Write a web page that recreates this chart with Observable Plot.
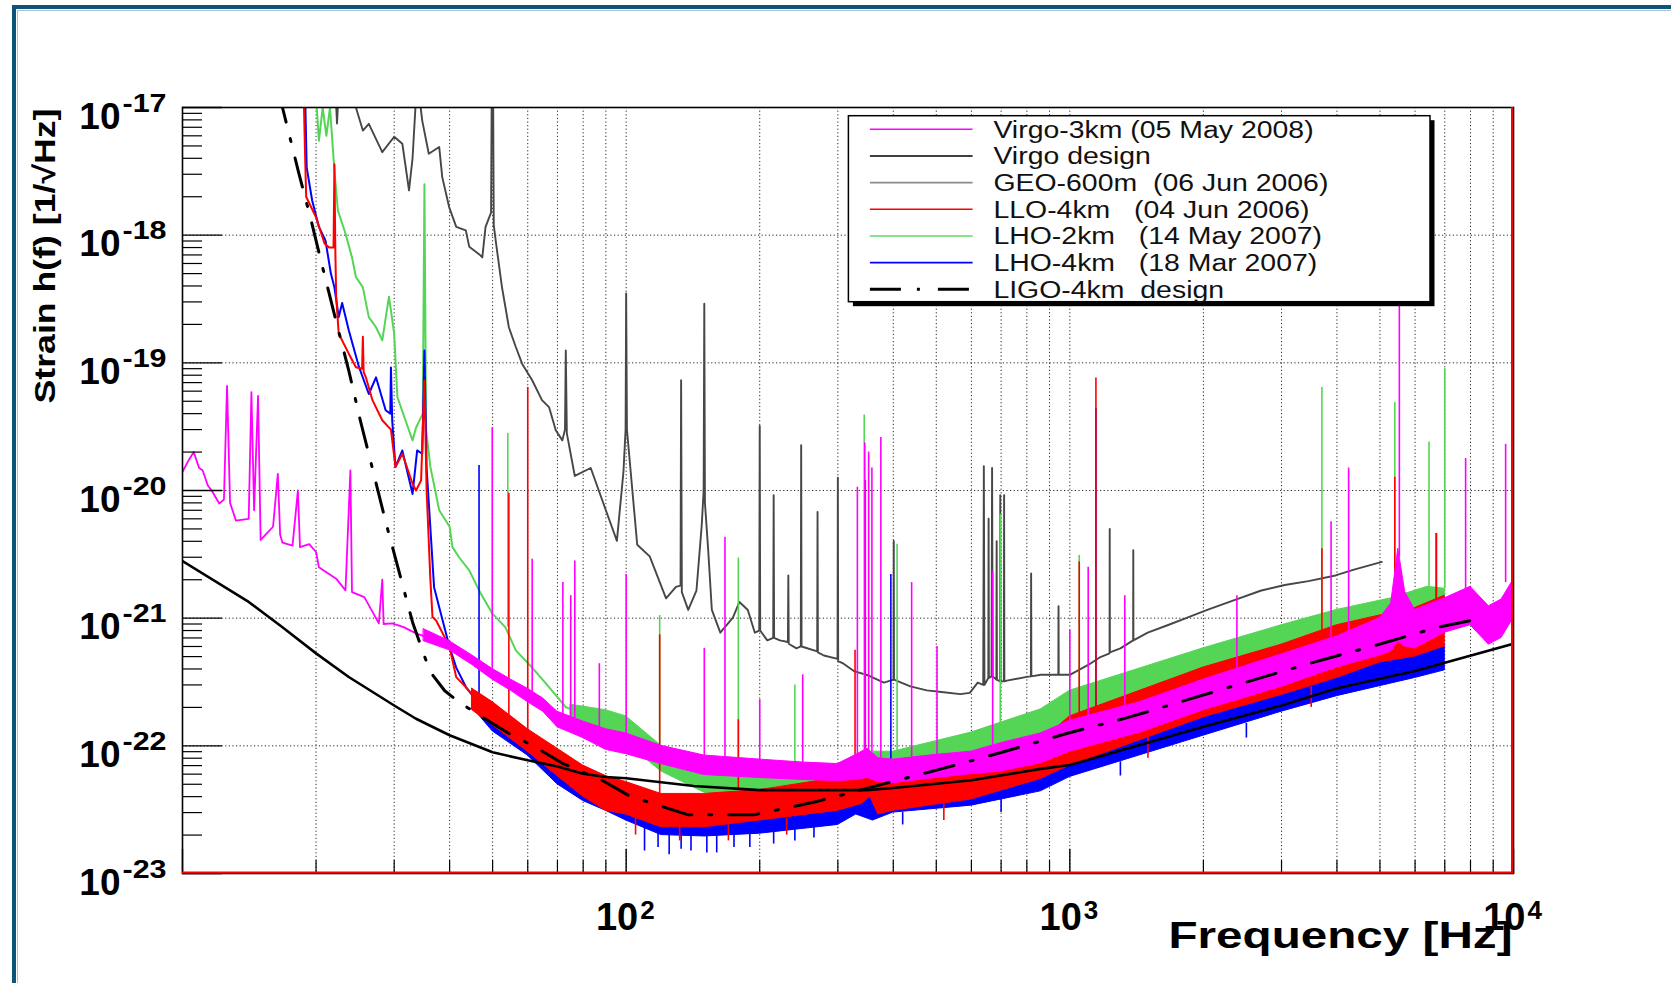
<!DOCTYPE html>
<html>
<head>
<meta charset="utf-8">
<script src="https://cdn.jsdelivr.net/npm/d3@7"></script>
<script src="https://cdn.jsdelivr.net/npm/@observablehq/plot@0.6"></script>
<style>
  html, body { margin: 0; padding: 0; background: #fff; }
  #wrap { position: relative; width: 1671px; height: 983px; overflow: hidden; background: #fff; }
  #border { position: absolute; left: 12px; top: 5px; width: 1700px; height: 1000px;
            border-top: 4.5px solid #0c5479; border-left: 4.5px solid #0c5479; }
  #border2 { position: absolute; left: 16.5px; top: 9.5px; width: 1700px; height: 1000px;
             border-top: 1px solid #a9c2d2; border-left: 1px solid #a9c2d2; }
  #chart { position: absolute; left: 0; top: 0; }
  #legend { position: absolute; left: 0; top: 0; pointer-events: none; }
</style>
</head>
<body>
<div id="wrap">
  <div id="border"></div><div id="border2"></div>
  <div id="chart"></div>
  <svg id="legend" width="1671" height="983"></svg>
</div>
<script>
// ---------------- series names / colours ----------------
const seriesNames = [
  "Virgo-3km (05 May 2008)",
  "Virgo design",
  "GEO-600m  (06 Jun 2006)",
  "LLO-4km   (04 Jun 2006)",
  "LHO-2km   (14 May 2007)",
  "LHO-4km   (18 Mar 2007)",
  "LIGO-4km  design"
];
const seriesColors = ["#ff00ff", "#000000", "#474747", "#ff0000", "#55d555", "#0000ff", "#000000"];
const legendColors = ["#ff00ff", "#000000", "#8c8c8c", "#ff0000", "#66d966", "#0000ff", "#000000"];

// ---------------- axis ticks / labels ----------------
const xMajorTicks = [10, 100, 1000, 10000];
const xMinorTicks = [20, 30, 40, 50, 60, 70, 80, 90, 200, 300, 400, 500, 600, 700, 800, 900,
                     2000, 3000, 4000, 5000, 6000, 7000, 8000, 9000];
const yMajorTicks = [1e-23, 1e-22, 1e-21, 1e-20, 1e-19, 1e-18, 1e-17];
const yMinorTicks = [
  2e-23, 3e-23, 4e-23, 5e-23, 6e-23, 7e-23, 8e-23, 9e-23,
  2e-22, 3e-22, 4e-22, 5e-22, 6e-22, 7e-22, 8e-22, 9e-22,
  2e-21, 3e-21, 4e-21, 5e-21, 6e-21, 7e-21, 8e-21, 9e-21,
  2e-20, 3e-20, 4e-20, 5e-20, 6e-20, 7e-20, 8e-20, 9e-20,
  2e-19, 3e-19, 4e-19, 5e-19, 6e-19, 7e-19, 8e-19, 9e-19,
  2e-18, 3e-18, 4e-18, 5e-18, 6e-18, 7e-18, 8e-18, 9e-18
];
const xLabelValues = [100, 1000, 10000];
const xLabelExponents = ["2", "3", "4"];
const yLabelValues = [1e-17, 1e-18, 1e-19, 1e-20, 1e-21, 1e-22, 1e-23];
const yLabelExponents = ["-17", "-18", "-19", "-20", "-21", "-22", "-23"];
const xTitle = "Frequency [Hz]";
const yTitle = "Strain h(f) [1/\u221AHz]";

// ---------------- data: [frequency Hz, strain] ----------------
// Virgo-3km (05 May 2008)
const virgo3kmLow = [
  [10, 1.4e-20], [10.3, 1.7e-20], [10.6, 2.0e-20], [10.9, 1.5e-20], [11.1, 1.44e-20], [11.4, 1.1e-20],
  [11.7, 9.7e-21], [12.1, 7.9e-21], [12.4, 8.5e-21], [12.6, 6.6e-20], [12.8, 8e-21], [13.2, 5.8e-21],
  [14.1, 6.0e-21], [14.3, 5.9e-20], [14.5, 7e-21], [14.8, 5.5e-20], [15.0, 4.1e-21], [16.0, 5.2e-21],
  [16.4, 1.35e-20], [16.6, 4.5e-21], [16.8, 3.9e-21], [17.7, 3.7e-21], [18.2, 1.0e-20], [18.4, 3.6e-21],
  [19.3, 3.8e-21], [20.0, 3.3e-21], [20.3, 2.5e-21], [22.2, 2.04e-21], [23.3, 1.65e-21], [23.9, 1.44e-20],
  [24.1, 1.6e-21], [25.7, 1.46e-21], [27.7, 9.1e-22], [28.2, 2.0e-21], [28.4, 9e-22], [29.7, 9.1e-22],
  [31.5, 8.5e-22], [33.6, 7.6e-22], [37.3, 6.7e-22], [40, 6e-22]
];
const virgo3kmBand = [
  [35, 6.6e-22, 8.2e-22], [40, 5.6e-22, 6.6e-22], [45, 4.3e-22, 5.1e-22], [50, 3.3e-22, 4.0e-22],
  [55, 2.7e-22, 3.3e-22], [60, 2.2e-22, 2.8e-22], [65, 1.85e-22, 2.35e-22], [70, 1.4e-22, 1.85e-22],
  [80, 1.15e-22, 1.55e-22], [90, 9.3e-23, 1.35e-22], [100, 8.6e-23, 1.25e-22], [120, 7.2e-23, 1.0e-22],
  [150, 5.9e-23, 8.4e-23], [200, 5.6e-23, 7.8e-23], [250, 5.4e-23, 7.4e-23], [300, 5.3e-23, 7.2e-23],
  [330, 5.4e-23, 8.5e-23], [350, 5.6e-23, 9.5e-23], [370, 5.2e-23, 8e-23], [400, 5.1e-23, 7.8e-23],
  [500, 5.6e-23, 8.5e-23], [600, 6.0e-23, 9.0e-23], [700, 6.3e-23, 1.05e-22], [860, 7.3e-23, 1.25e-22],
  [1000, 9.0e-23, 1.57e-22], [1440, 1.27e-22, 2.2e-22], [2000, 1.9e-22, 3.3e-22], [3000, 2.9e-22, 5.2e-22],
  [4000, 4.1e-22, 7.2e-22], [5000, 5.1e-22, 1.0e-21], [5300, 5.5e-22, 1.3e-21], [5500, 6.5e-22, 3.5e-21],
  [5700, 6e-22, 1.6e-21], [6000, 5.8e-22, 1.16e-21], [7000, 7.7e-22, 1.43e-21], [8000, 8.8e-22, 1.76e-21],
  [8800, 6.2e-22, 1.24e-21], [9400, 7e-22, 1.4e-21], [10000, 1.0e-21, 2.0e-21]
];
const virgo3kmSpikes = [ // [f, base, peak]
  [49.9, 4.0e-22, 3.1e-20], [61.4, 2.6e-22, 2.9e-21], [72, 1.7e-22, 1.9e-21], [75, 1.6e-22, 1.5e-21],
  [76.6, 1.6e-22, 2.8e-21], [87, 1.3e-22, 4.4e-22], [100, 1.2e-22, 2.2e-21], [150, 8e-23, 5.8e-22],
  [167, 7.8e-23, 4.3e-21], [200, 7.5e-23, 2.3e-22], [250, 7.2e-23, 3.6e-22], [332, 8e-23, 1.06e-20],
  [345, 9e-23, 2.36e-20], [352, 9e-23, 2.0e-20], [358, 9e-23, 1.5e-20], [375, 8e-23, 2.6e-20],
  [440, 8e-23, 1.9e-21], [502, 8.5e-23, 6e-22], [670, 1e-22, 2.3e-21], [1000, 1.5e-22, 8e-22],
  [1100, 1.7e-22, 2.5e-21], [1330, 2e-22, 1.5e-21], [2380, 4e-22, 1.5e-21], [3880, 7e-22, 5.7e-21],
  [4250, 7.5e-22, 1.5e-20], [5530, 3e-21, 6.2e-19], [7800, 1.6e-21, 1.78e-20], [9600, 1.9e-21, 2.3e-20],
  [9950, 2e-21, 4.4e-20]
];

// Virgo design
const virgoDesign = [
  [10, 2.8e-21], [14.1, 1.34e-21], [16.8, 8.5e-22], [20, 5.3e-22], [23.7, 3.46e-22], [30, 2.07e-22],
  [33.6, 1.63e-22], [40, 1.21e-22], [50, 8.9e-23], [60, 7.7e-23], [70, 6.9e-23], [80, 6.05e-23],
  [90, 5.7e-23], [100, 5.57e-23], [142, 4.84e-23], [200, 4.5e-23], [300, 4.5e-23], [349, 4.5e-23],
  [400, 4.68e-23], [600, 5.37e-23], [860, 6.6e-23], [1000, 7.07e-23], [2000, 1.41e-22], [3000, 2.07e-22],
  [4000, 2.82e-22], [6000, 3.85e-22], [10000, 6.3e-22]
];

// GEO-600m (06 Jun 2006)
const geo600 = [
  [22.0, 2e-17], [22.3, 7.5e-18], [22.6, 2e-17], [24.4, 2e-17], [24.6, 1.0e-17], [25.5, 6.6e-18],
  [26.3, 7.45e-18], [28.2, 4.47e-18], [30.0, 5.9e-18], [31.3, 5.2e-18], [32.4, 2.24e-18], [33.0, 4e-18],
  [33.6, 1.2e-17], [34.2, 1.2e-17], [34.7, 7.9e-18], [35.9, 4.34e-18], [37.9, 4.9e-18], [38.5, 2.85e-18],
  [39.9, 1.66e-18], [41.4, 1.16e-18], [43.5, 1.09e-18], [44.3, 8.1e-19], [46.6, 7.1e-19], [47.4, 6.7e-19],
  [48.2, 1.16e-18], [49.6, 1.5e-18], [49.8, 2e-17], [50.1, 2e-17], [50.3, 1.2e-18], [50.8, 9.1e-19],
  [52.5, 3.9e-19], [54.4, 1.9e-19], [56.4, 1.33e-19], [58.3, 9.8e-20], [61.4, 7.3e-20], [64.6, 5.1e-20],
  [67, 4.5e-20], [69.4, 2.96e-20], [71.8, 2.47e-20], [72.8, 3e-20], [73.1, 1.25e-19], [73.5, 2.8e-20],
  [76.6, 1.3e-20], [83.2, 1.5e-20], [90, 7.0e-21], [95.3, 4.03e-21], [98.6, 1.4e-20], [99.7, 3e-20],
  [100, 3.5e-19], [100.4, 3e-20], [105.9, 3.76e-21], [113, 3.05e-21], [123, 1.43e-21], [129.5, 1.76e-21],
  [132.6, 1.8e-21], [133, 7.3e-20], [133.5, 1.6e-21], [138, 1.16e-21], [144, 1.64e-21], [148, 5.3e-21],
  [149.5, 1e-20], [150, 2.9e-19], [150.5, 8e-21], [153, 3.5e-21], [156, 1.16e-21], [163, 7.7e-22],
  [174, 1.01e-21], [180, 1.34e-21], [188, 1.16e-21], [195, 7.7e-22], [199.5, 8e-22], [200, 3.2e-20],
  [200.5, 8e-22], [208, 6.7e-22], [214.5, 7e-22], [215, 9.2e-21], [215.5, 7e-22], [222, 6.7e-22],
  [231.5, 6.5e-22], [232, 2.16e-21], [232.5, 6.3e-22], [242, 5.8e-22], [247.5, 6e-22], [248, 2.26e-20],
  [248.5, 6e-22], [269.5, 5.5e-22], [270, 6.8e-21], [270.5, 5.4e-22], [279, 5.1e-22], [299.5, 4.8e-22],
  [300, 1.26e-20], [300.5, 4.6e-22], [309, 4.4e-22], [326, 3.85e-22], [349, 3.59e-22], [381, 3.13e-22],
  [400.5, 3.3e-22], [401, 4.03e-21], [401.5, 3.3e-22], [437, 2.92e-22], [476, 2.72e-22], [520, 2.63e-22],
  [566, 2.54e-22], [595, 2.6e-22], [620, 3.13e-22], [638, 3e-22], [640, 1.55e-20], [642, 3e-22],
  [655, 3.4e-22], [656, 6e-21], [657, 3.4e-22], [666, 3.5e-22], [668, 1.5e-20], [670, 3.5e-22],
  [683, 3.3e-22], [684, 4e-21], [685, 3.3e-22], [696, 3.2e-22], [697, 9.2e-21], [698, 3.2e-22],
  [710, 3.2e-22], [711, 9.2e-21], [712, 3.2e-22], [721, 3.24e-22], [800, 3.47e-22], [817, 3.5e-22],
  [818, 2.24e-21], [819, 3.5e-22], [860, 3.6e-22], [942, 3.6e-22], [943, 1.24e-21], [944, 3.6e-22],
  [1000, 3.6e-22], [1100, 4.3e-22], [1172, 4.96e-22], [1229, 5.3e-22], [1230, 5e-21], [1231, 5.4e-22],
  [1300, 5.8e-22], [1389, 6.7e-22], [1390, 3.4e-21], [1391, 6.7e-22], [1498, 7.7e-22], [1660, 8.8e-22],
  [1840, 1.01e-21], [2040, 1.16e-21], [2340, 1.38e-21], [2690, 1.64e-21], [3050, 1.82e-21],
  [3450, 1.95e-21], [3970, 2.16e-21], [4370, 2.4e-21], [5050, 2.76e-21]
];

// LLO-4km (04 Jun 2006)
const lloLow = [
  [18.7, 2e-17], [18.9, 4e-18], [19.0, 2.0e-18], [20.0, 1.38e-18], [20.9, 8.6e-19], [21.4, 8.0e-19],
  [21.9, 8e-19], [22.0, 3.6e-18], [22.1, 8e-19], [22.2, 3.3e-19], [22.5, 1.69e-19], [23.7, 1.18e-19],
  [24.6, 9.25e-20], [25.4, 9e-20], [25.5, 1.6e-19], [25.6, 8.5e-20], [25.9, 7.7e-20], [26.8, 5.1e-20],
  [28.2, 3.55e-20], [29.5, 3e-20], [30.2, 1.53e-20], [31.3, 1.94e-20], [33.0, 1.13e-20], [33.6, 1.0e-20],
  [34.5, 1.2e-20], [35.1, 7.3e-20], [35.5, 1e-20], [36.2, 2e-21], [36.6, 1.02e-21], [37.3, 9.6e-22],
  [39.3, 6.7e-22], [40, 5.9e-22], [41.4, 3.45e-22], [43.5, 2.88e-22], [45, 2.5e-22]
];
const lloBand = [
  [45, 1.9e-22, 2.8e-22], [50, 1.45e-22, 2.2e-22], [60, 9.0e-23, 1.35e-22], [70, 5.8e-23, 9.5e-23],
  [80, 4.0e-23, 7.0e-23], [90, 3.1e-23, 5.8e-23], [100, 2.9e-23, 5.2e-23], [120, 2.3e-23, 4.2e-23],
  [150, 2.3e-23, 4.2e-23], [200, 2.6e-23, 4.5e-23], [300, 3.1e-23, 5.6e-23], [340, 3.5e-23, 6.3e-23],
  [355, 4.0e-23, 7.0e-23], [370, 2.9e-23, 5.5e-23], [400, 3.1e-23, 5.4e-23], [600, 3.8e-23, 7.0e-23],
  [860, 5.5e-23, 1.08e-22], [1000, 7.0e-23, 1.7e-22], [2000, 1.67e-22, 4.1e-22], [3000, 2.5e-22, 6.2e-22],
  [4000, 3.4e-22, 8.8e-22], [5000, 4.5e-22, 1.05e-21], [6000, 5.0e-22, 1.2e-21], [7000, 6.0e-22, 1.5e-21]
];
const lloSpikes = [
  [54.4, 1.6e-22, 9.5e-21], [60, 1.3e-22, 6.4e-20], [119, 4e-23, 7.4e-22], [179, 4.5e-23, 1.6e-22],
  [328, 6e-23, 5.6e-22], [346, 6.5e-23, 1.2e-20], [1050, 1.6e-22, 2.76e-21], [1145, 1.7e-22, 7.6e-20],
  [3700, 8e-22, 3.5e-21], [5400, 1.1e-21, 1.27e-20], [6700, 1.4e-21, 4.6e-21],
  // downward noise excursions
  [105, 2.9e-23, 2.0e-23], [132, 2.4e-23, 1.8e-23], [170, 2.4e-23, 1.8e-23], [230, 2.7e-23, 2.0e-23],
  [520, 3.6e-23, 2.6e-23], [1500, 1.2e-22, 8e-23], [3500, 2.9e-22, 2.0e-22]
];

// LHO-2km (14 May 2007)
const lho2Low = [
  [20.0, 1.2e-17], [20.3, 5.5e-18], [20.7, 1e-17], [21.1, 6e-18], [21.5, 1e-17], [22.0, 3.2e-18],
  [22.4, 1.56e-18], [23.3, 1.03e-18], [24.1, 6.7e-19], [24.6, 4.7e-19], [25.5, 3.9e-19], [26.3, 2.28e-19],
  [27.3, 1.9e-19], [28.2, 1.5e-19], [29.2, 3.3e-19], [30.0, 1.69e-19], [30.5, 5.4e-20], [31.8, 3.55e-20],
  [33.0, 2.47e-20], [33.6, 3.1e-20], [34.8, 4e-20], [35.1, 2.5e-18], [35.4, 3e-20], [36.2, 1.53e-20],
  [37.9, 7.0e-21], [40, 5.2e-21], [40.6, 3.6e-21], [42, 3.0e-21], [44.3, 2.37e-21], [46.6, 1.65e-21],
  [50, 1.08e-21], [53.4, 8.5e-22], [56.4, 5.6e-22], [61.4, 4.1e-22], [67, 2.88e-22], [73.2, 2.0e-22],
  [79.7, 1.79e-22]
];
const lho2Band = [
  [75, 1.4e-22, 2.1e-22], [90, 1.15e-22, 1.9e-22], [100, 1.05e-22, 1.7e-22], [120, 6.3e-23, 1.0e-22],
  [150, 4.3e-23, 6.8e-23], [200, 4.1e-23, 6.4e-23], [300, 4.4e-23, 6.8e-23], [350, 5.5e-23, 9e-23],
  [400, 5.8e-23, 9e-23], [600, 8.2e-23, 1.27e-22], [860, 1.15e-22, 1.93e-22], [1000, 1.45e-22, 2.7e-22],
  [2000, 3.3e-22, 5.8e-22], [3000, 5.1e-22, 8.8e-22], [4000, 6.7e-22, 1.16e-21], [5300, 8.8e-22, 1.43e-21],
  [6400, 1.16e-21, 1.76e-21], [7000, 1.1e-21, 1.7e-21]
];
const lho2Spikes = [
  [54.1, 8.5e-22, 2.8e-20], [119, 8e-23, 1.05e-21], [179, 6.5e-23, 2.96e-21], [240, 6.4e-23, 3e-22],
  [344, 8e-23, 3.9e-20], [408, 9e-23, 3.8e-21], [697, 1.5e-22, 6.5e-21], [1050, 2.7e-22, 3.1e-21],
  [3700, 9e-22, 6.4e-20], [5400, 1.4e-21, 4.9e-20], [6450, 1.7e-21, 2.4e-20], [7000, 1.7e-21, 9e-20]
];

// LHO-4km (18 Mar 2007)
const lho4Low = [
  [18.85, 2e-17], [18.95, 7.9e-18], [19.05, 3.4e-18], [19.6, 1.87e-18], [20.3, 1.16e-18], [21.0, 9.1e-19],
  [21.6, 5.0e-19], [22.0, 3.9e-19], [22.5, 2.28e-19], [22.9, 2.94e-19], [23.7, 1.8e-19], [25.0, 9.25e-20],
  [26.3, 5.7e-20], [27.3, 7.7e-20], [28.7, 4.25e-20], [29.4, 4e-20], [29.5, 9.2e-20], [29.7, 3.5e-20],
  [30.2, 1.53e-20], [31.3, 2.06e-20], [33.0, 9.4e-21], [33.8, 2.06e-20], [34.7, 1.94e-20], [35.1, 1.25e-19],
  [35.5, 1.5e-20], [36.9, 1.75e-21], [37.9, 1.22e-21], [40, 5.9e-22], [41.4, 4.1e-22], [43.5, 2.9e-22],
  [45, 2.5e-22]
];
const lho4Band = [
  [45, 2.0e-22, 2.7e-22], [50, 1.3e-22, 2.0e-22], [60, 8.4e-23, 1.25e-22], [70, 5.0e-23, 8.2e-23],
  [80, 3.7e-23, 6.0e-23], [90, 3.1e-23, 5.0e-23], [100, 2.6e-23, 4.5e-23], [120, 2.0e-23, 3.7e-23],
  [150, 1.95e-23, 3.7e-23], [200, 2.05e-23, 4.0e-23], [300, 2.4e-23, 4.5e-23], [330, 2.9e-23, 5.0e-23],
  [360, 2.6e-23, 4.6e-23], [400, 3.0e-23, 4.9e-23], [600, 3.4e-23, 5.6e-23], [860, 4.4e-23, 6.8e-23],
  [1000, 5.7e-23, 8.4e-23], [2000, 1.2e-22, 1.93e-22], [3000, 1.85e-22, 2.9e-22], [4000, 2.45e-22, 3.8e-22],
  [6000, 3.4e-22, 5.4e-22], [7000, 3.9e-22, 6.2e-22]
];
const lho4Spikes = [
  [46.6, 2.3e-22, 1.57e-20], [395, 4.5e-23, 2.2e-21], [1145, 1.7e-22, 4.4e-20], [6700, 6e-22, 4.6e-21],
  // downward noise excursions
  [110, 2.3e-23, 1.5e-23], [118, 2.1e-23, 1.6e-23], [125, 2.0e-23, 1.4e-23], [133, 2.0e-23, 1.55e-23],
  [140, 2.0e-23, 1.5e-23], [152, 2.0e-23, 1.45e-23], [160, 2.0e-23, 1.45e-23], [175, 2.0e-23, 1.6e-23],
  [190, 2.05e-23, 1.6e-23], [215, 2.1e-23, 1.7e-23], [240, 2.2e-23, 1.8e-23], [265, 2.3e-23, 1.9e-23],
  [420, 3.0e-23, 2.4e-23], [700, 3.8e-23, 3.0e-23], [1300, 7.5e-23, 5.8e-23], [2500, 1.5e-22, 1.15e-22]
];

// LIGO-4km design
const ligoDesign = [
  [16.5, 1.3e-17], [16.8, 1.0e-17], [18.25, 3.15e-18], [19.5, 1.30e-18], [20.8, 5.2e-19], [22.2, 2.11e-19],
  [23.7, 8.7e-20], [25.2, 3.47e-20], [26.9, 1.41e-20], [28.7, 5.7e-21], [30.8, 2.28e-21], [33.0, 9.3e-22],
  [36.1, 3.83e-22], [39, 2.7e-22], [42, 2.2e-22], [47.4, 1.68e-22], [54.4, 1.25e-22], [62.4, 9.8e-23],
  [71.8, 7.3e-23], [88, 5.4e-23], [102, 4.03e-23], [138, 2.88e-23], [194, 2.88e-23], [269, 3.66e-23],
  [377, 4.99e-23], [516, 6.63e-23], [716, 9.06e-23], [984, 1.25e-22], [1355, 1.67e-22], [1869, 2.33e-22],
  [2579, 3.26e-22], [3540, 4.51e-22], [4868, 6.1e-22], [6755, 8.5e-22], [8500, 1.0e-21]
];

// ---------------- layout ----------------
const W = 1671, H = 983;
const mL = 182, mR = 158, mT = 107, mB = 110;
const plotW = W - mL - mR;
const plotH = H - mT - mB;
const FONT = "'Liberation Sans', Arial, Helvetica, sans-serif";

const [nVirgo, nVDes, nGeo, nLlo, nLho2, nLho4, nLigo] = seriesNames;
const fx = d => d[0], fy = d => d[1], flo = d => d[1], fhi = d => d[2];

function band(data, name) {
  return Plot.areaY(data, {x: fx, y1: flo, y2: fhi, fill: () => name, stroke: () => name, strokeWidth: 1, clip: true});
}
function low(data, name, w = 2) {
  return Plot.line(data, {x: fx, y: fy, stroke: () => name, strokeWidth: w, clip: true});
}
function spikes(data, name) {
  return Plot.ruleX(data, {x: fx, y1: d => d[1], y2: d => d[2], stroke: () => name, strokeWidth: 1.6, clip: true});
}

const chart = Plot.plot({
  width: W, height: H,
  marginLeft: mL, marginRight: mR, marginTop: mT, marginBottom: mB,
  style: {fontFamily: FONT, background: "transparent", overflow: "visible"},
  x: {type: "log", domain: [10, 1e4], axis: null},
  y: {type: "log", domain: [1e-23, 1e-17], axis: null},
  color: {type: "ordinal", domain: seriesNames, range: seriesColors},
  marks: [
    // grid
    Plot.ruleX(xMinorTicks.concat(xMajorTicks), {x: d => d, stroke: "#000", strokeWidth: 1, strokeDasharray: "1.2,2.4", strokeOpacity: 0.85}),
    Plot.ruleY(yMajorTicks, {y: d => d, stroke: "#000", strokeWidth: 1, strokeDasharray: "1.2,2.4", strokeOpacity: 0.85}),
    // data
    low(geo600, nGeo, 1.9),
    band(lho2Band, nLho2), low(lho2Low, nLho2), spikes(lho2Spikes, nLho2),
    band(lho4Band, nLho4), low(lho4Low, nLho4), spikes(lho4Spikes, nLho4),
    band(lloBand, nLlo), low(lloLow, nLlo), spikes(lloSpikes, nLlo),
    band(virgo3kmBand, nVirgo), low(virgo3kmLow, nVirgo, 1.8), spikes(virgo3kmSpikes, nVirgo),
    low(virgoDesign, nVDes, 2.6),
    Plot.line(ligoDesign, {x: fx, y: fy, stroke: () => nLigo, strokeWidth: 3, strokeDasharray: "30,17,3,17", clip: true}),
    // ticks (inside the frame)
    Plot.ruleY(yMajorTicks, {y: d => d, stroke: "#000", strokeWidth: 1.4, insetRight: plotW - 40}),
    Plot.ruleY(yMinorTicks, {y: d => d, stroke: "#000", strokeWidth: 1.2, insetRight: plotW - 20}),
    Plot.ruleX(xMajorTicks, {x: d => d, stroke: "#000", strokeWidth: 1.4, insetTop: plotH - 24}),
    Plot.ruleX(xMinorTicks, {x: d => d, stroke: "#000", strokeWidth: 1.2, insetTop: plotH - 13}),
    Plot.frame({stroke: "#000", strokeWidth: 1.6}),
    Plot.ruleY([1e-23], {y: d => d, stroke: "#ff0000", strokeWidth: 2, dy: -1}),
    Plot.ruleX([1e4], {x: d => d, stroke: "#ff0000", strokeWidth: 2, dx: -1.5}),
    // tick labels
    Plot.text(xLabelValues, {x: d => d, frameAnchor: "bottom", text: () => "10", textAnchor: "end", lineAnchor: "bottom",
      dx: 12, dy: 56, fontSize: 38, fontWeight: "bold", fill: "#000"}),
    Plot.text(xLabelValues, {x: d => d, frameAnchor: "bottom", text: (d, i) => xLabelExponents[i], textAnchor: "start", lineAnchor: "bottom",
      dx: 14, dy: 45, fontSize: 26, fontWeight: "bold", fill: "#000"}),
    Plot.text(yLabelValues, {y: d => d, frameAnchor: "left", text: () => "10", textAnchor: "end", lineAnchor: "bottom",
      dx: -62, dy: 21, fontSize: 37, fontWeight: "bold", fill: "#000"}),
    Plot.text(yLabelValues, {y: d => d, frameAnchor: "left", text: (d, i) => yLabelExponents[i], textAnchor: "start", lineAnchor: "bottom",
      dx: -60, dy: 4, fontSize: 26, fontWeight: "bold", fill: "#000"}),
    // axis titles
    Plot.text([xTitle], {frameAnchor: "bottom-right", textAnchor: "end", lineAnchor: "bottom",
      dx: -1, dy: 74, fontSize: 37, fontWeight: "bold", fill: "#000"}),
    Plot.text([yTitle], {frameAnchor: "top-left", rotate: -90, textAnchor: "middle", lineAnchor: "bottom",
      dx: -128, dy: 148.5, fontSize: 30, fontWeight: "bold", fill: "#000"})
  ]
});
document.getElementById("chart").appendChild(chart);

// stretch titles / exponents to the reference widths
d3.select(chart).selectAll("text").each(function () {
  const t = this.textContent;
  if (t === xTitle) {
    this.setAttribute("textLength", 344);
    this.setAttribute("lengthAdjust", "spacingAndGlyphs");
  } else if (t === yTitle) {
    this.setAttribute("textLength", 295);
    this.setAttribute("lengthAdjust", "spacingAndGlyphs");
  } else if (yLabelExponents.includes(t)) {
    this.setAttribute("textLength", 44);
    this.setAttribute("lengthAdjust", "spacingAndGlyphs");
  }
});

// ---------------- legend (boxed, with shadow) ----------------
const leg = d3.select("#legend");
const lx = 848.4, ly = 115.7, lw = 581.6, lh = 186, rowH = 26.67;
leg.append("rect").attr("x", lx + 4.5).attr("y", ly + 4.5).attr("width", lw).attr("height", lh).attr("fill", "#000");
leg.append("rect").attr("x", lx).attr("y", ly).attr("width", lw).attr("height", lh)
  .attr("fill", "#fff").attr("stroke", "#000").attr("stroke-width", 1.5);
seriesNames.forEach((name, i) => {
  const yy = ly + 13.6 + i * rowH;
  const isDash = i === seriesNames.length - 1;
  leg.append("line").attr("x1", lx + 21.5).attr("x2", lx + 124.2).attr("y1", yy).attr("y2", yy)
    .attr("stroke", legendColors[i]).attr("stroke-width", isDash ? 3 : 1.6)
    .attr("stroke-dasharray", isDash ? "31,16,3,18" : null);
  leg.append("text")
    .attr("transform", `translate(${lx + 145},${yy + 8.2}) scale(1.21,1)`)
    .attr("font-family", FONT).attr("font-size", 23.5).attr("fill", "#111")
    .style("white-space", "pre")
    .text(name);
});
</script>
</body>
</html>
